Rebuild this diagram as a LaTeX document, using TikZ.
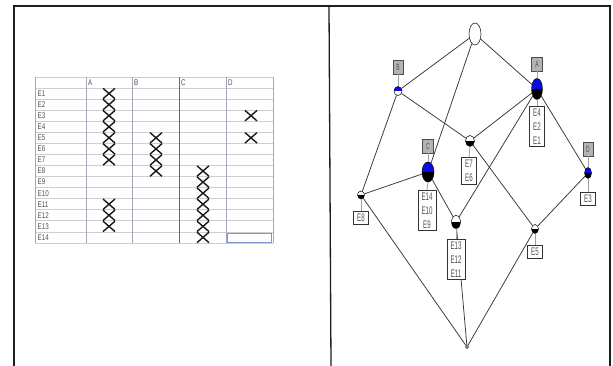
\documentclass[tikz,border=0pt]{standalone}
\usepackage{fontspec}
\setmainfont{Liberation Sans}
\newfontfamily\latfont[FakeStretch=0.56]{Liberation Sans}
\newfontfamily\tabfont[FakeStretch=0.75]{Liberation Sans}
\usetikzlibrary{shapes.geometric}

\definecolor{framecol}{HTML}{1E1E1E}
\definecolor{gridcol}{HTML}{C9CED8}
\definecolor{sepcol}{HTML}{A2AABA}
\definecolor{darksep}{HTML}{5F6B82}
\definecolor{selcol}{HTML}{7A95D0}
\definecolor{txtcol}{HTML}{505050}
\definecolor{edgecol}{HTML}{363636}
\definecolor{labfill}{HTML}{B3B3B3}
\definecolor{tickcol}{HTML}{A0A0A0}
\definecolor{conceptblue}{HTML}{0A0AE6}

\tikzset{
  concept/.style 2 args={ellipse, draw=black, line width=0.5pt, inner sep=0pt,
    path picture={
      \fill[#1] (path picture bounding box.north west) rectangle (path picture bounding box.east);
      \fill[#2] (path picture bounding box.west) rectangle (path picture bounding box.south east);}},
  attrlabel/.style={draw=black!70, fill=labfill, line width=0.5pt, inner sep=0pt,
    minimum width=10pt, minimum height=14pt, text=txtcol, font=\latfont\fontsize{9}{10}\selectfont},
  extent/.style={draw=black!80, fill=white, line width=0.6pt, inner xsep=3.5pt, inner ysep=2.6pt,
    align=center, text=txtcol, anchor=north, font=\latfont\fontsize{11}{13.8}\selectfont},
  lattline/.style={draw=edgecol, line width=0.75pt},
  tickline/.style={draw=tickcol, line width=0.8pt},
  xmark/.style={draw=black!90, line width=1.4pt},
  celltext/.style={anchor=west, inner sep=0pt, text=txtcol, font=\tabfont\fontsize{8.3}{9}\selectfont},
}

\begin{document}
\begin{tikzpicture}[x=1pt, y=-1pt]
\useasboundingbox (0,0) rectangle (613,366);
\fill[white] (0,0) rectangle (613,366);

% page frame and panel divider
\draw[framecol, line width=1.3pt] (14,366) -- (14,6) -- (610,6) -- (610,366);
\draw[framecol, line width=1.3pt] (329,6) -- (331,366);

% ---------- incidence table ----------
\pgfmathsetmacro{\rh}{11.07}
\foreach \k in {0,...,14} {
  \draw[gridcol, line width=0.7pt] (35,{88+\k*\rh}) -- (273,{88+\k*\rh});
}
\draw[gridcol, line width=0.7pt] (35,77) -- (273,77);
\foreach \xx in {35,86,132,226,273} {
  \draw[sepcol, line width=0.8pt] (\xx,77) -- (\xx,243);
}
\draw[darksep, line width=0.8pt] (179,77) -- (179,243);

% column headers
\foreach \c/\xx in {A/86,B/132,C/179,D/226} {
  \node[celltext] (h\c) at (\xx+1.8,82.6) {\c};
}
% row labels
\foreach \i in {1,...,14} {
  \node[celltext] (r\i) at (37.5,{88+(\i-0.5)*\rh}) {E\i};
}
% crosses
\foreach \cx/\rows in {109/{1,2,3,4,5,6,7,11,12,13}, 156/{5,6,7,8}, 203/{8,9,10,11,12,13,14}, 251/{3,5}} {
  \foreach \i in \rows {
    \draw[xmark] ({\cx-6},{88+(\i-1)*\rh+0.3}) -- ({\cx+6},{88+\i*\rh-0.3})
                 ({\cx+6},{88+(\i-1)*\rh+0.3}) -- ({\cx-6},{88+\i*\rh-0.3});
  }
}
% selected cell
\draw[selcol, line width=0.8pt] (227.5,233) rectangle (271.5,242);

% ---------- concept lattice ----------
\node[concept={white}{white}, minimum width=12pt, minimum height=22pt] (top) at (475,34) {};
\node[concept={conceptblue}{white}, minimum width=8pt, minimum height=9pt] (B) at (398,91) {};
\node[concept={conceptblue}{black}, minimum width=11pt, minimum height=21pt] (A) at (537,89) {};
\node[concept={white}{black}, minimum width=9pt, minimum height=11pt] (M) at (470,141) {};
\node[concept={conceptblue}{black}, minimum width=12pt, minimum height=20pt] (C) at (428,172) {};
\node[concept={conceptblue}{black}, minimum width=7pt, minimum height=11pt] (D) at (588,173) {};
\node[concept={white}{black}, minimum width=7pt, minimum height=8pt] (E8n) at (361,195) {};
\node[concept={white}{black}, minimum width=9pt, minimum height=13pt] (N) at (456,222) {};
\node[concept={white}{black}, minimum width=7pt, minimum height=9pt] (E5n) at (535,229) {};
\node[concept={white}{white}, minimum width=3pt, minimum height=3pt] (bot) at (467,347) {};

% order relation
\draw[lattline] (top) -- (B);
\draw[lattline] (top) -- (A);
\draw[lattline] (top) -- (C);
\draw[lattline] (B) -- (M);
\draw[lattline] (A) -- (M);
\draw[lattline] (A) -- (N);
\draw[lattline] (A) -- (D);
\draw[lattline] (B) -- (E8n);
\draw[lattline] (C) -- (E8n);
\draw[lattline] (C) -- (N);
\draw[lattline] (M) -- (E5n);
\draw[lattline] (D) -- (E5n);
\draw[lattline] (E8n) -- (bot);
\draw[lattline] (N) -- (bot);
\draw[lattline] (E5n) -- (bot);

% attribute labels
\node[attrlabel] (labB) at (398,67) {B};
\node[attrlabel, minimum width=11pt] (labA) at (537,64) {A};
\node[attrlabel, minimum width=11pt] (labC) at (428,146) {C};
\node[attrlabel] (labD) at (588,149) {D};
\draw[tickline] (labB.south) -- (B.north);
\draw[tickline] (labA.south) -- (A.north);
\draw[tickline] (labC.south) -- (C.north);
\draw[tickline] (labD.south) -- (D.north);

% object extents
\node[extent] (extA) at (537,106) {E4\\E2\\E1};
\node[extent] (extM) at (469,157) {E7\\E6};
\node[extent] (extC) at (427,190) {E14\\E10\\E9};
\node[extent] (extD) at (588,192) {E3};
\node[extent] (extE8) at (361,211) {E8};
\node[extent] (extN) at (456,239) {E13\\E12\\E11};
\node[extent] (extE5) at (535,245) {E5};
\draw[tickline] (A.south) -- (extA.north);
\draw[tickline] (M.south) -- (extM.north);
\draw[tickline] (C.south) -- (extC.north);
\draw[tickline] (D.south) -- (extD.north);
\draw[tickline] (E8n.south) -- (extE8.north);
\draw[tickline] (N.south) -- (extN.north);
\draw[tickline] (E5n.south) -- (extE5.north);
\end{tikzpicture}
\end{document}
